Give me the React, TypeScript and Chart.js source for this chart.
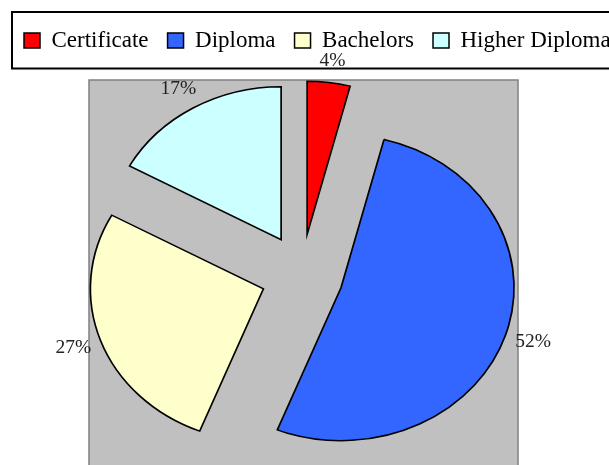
import React, { useEffect, useRef } from "react";
import { Chart, registerables } from "chart.js";

Chart.register(...registerables);

const CATEGORIES = ["Certificate", "Diploma", "Bachelors", "Higher Diploma"];
const VALUES = [4, 52, 27, 17];
const COLORS = ["#FF0000", "#3366FF", "#FFFFCC", "#CCFFFF"];

const RADIUS = 153;
const STRETCH_X = 1.131;
const EXPLODE = 41;
const SERIF = "'Liberation Serif', 'Times New Roman', serif";

const explodePlugin = {
  id: "explodeEllipse",
  beforeDatasetsDraw(chart: any) {
    const meta = chart.getDatasetMeta(0);
    meta.data.forEach((arc: any) => {
      if (arc.__wrapped) return;
      const orig = arc.draw.bind(arc);
      arc.draw = (ctx: CanvasRenderingContext2D) => {
        const mid = (arc.startAngle + arc.endAngle) / 2;
        ctx.save();
        ctx.translate(arc.x + Math.cos(mid) * EXPLODE, arc.y + Math.sin(mid) * EXPLODE);
        ctx.scale(STRETCH_X, 1);
        ctx.translate(-arc.x, -arc.y);
        orig(ctx);
        ctx.restore();
      };
      arc.__wrapped = true;
    });
  },
};

const plotBgPlugin = {
  id: "plotBg",
  beforeDatasetsDraw(chart: any) {
    const arc = chart.getDatasetMeta(0).data[0];
    if (!arc) return;
    const ctx = chart.ctx;
    const left = arc.x - 213;
    const top = arc.y - 195;
    const w = 429;
    const h = 400;
    ctx.save();
    ctx.fillStyle = "#C0C0C0";
    ctx.fillRect(left, top, w, h);
    ctx.strokeStyle = "#808080";
    ctx.lineWidth = 1.5;
    ctx.strokeRect(left, top, w, h);
    ctx.restore();
  },
};

const labelPlugin = {
  id: "pctLabels",
  afterDatasetsDraw(chart: any) {
    const ctx = chart.ctx;
    const meta = chart.getDatasetMeta(0);
    const data = chart.data.datasets[0].data as number[];
    const total = data.reduce((a, b) => a + b, 0);
    ctx.save();
    ctx.font = `19.5px ${SERIF}`;
    ctx.fillStyle = "#222222";
    ctx.textAlign = "center";
    ctx.textBaseline = "middle";
    meta.data.forEach((arc: any, i: number) => {
      const mid = (arc.startAngle + arc.endAngle) / 2;
      const x = arc.x + Math.cos(mid) * (EXPLODE + arc.outerRadius * STRETCH_X + 29);
      const y = arc.y + Math.sin(mid) * (EXPLODE + arc.outerRadius + 22);
      ctx.fillText(`${Math.round((data[i] / total) * 100)}%`, x, y);
    });
    ctx.restore();
  },
};

const legendFramePlugin = {
  id: "legendFrame",
  afterDraw(chart: any) {
    const ctx = chart.ctx;
    ctx.save();
    ctx.strokeStyle = "#000000";
    ctx.lineWidth = 2;
    ctx.beginPath();
    ctx.moveTo(chart.width + 5, 12);
    ctx.lineTo(12, 12);
    ctx.lineTo(12, 68.5);
    ctx.lineTo(chart.width + 5, 68.5);
    ctx.stroke();
    ctx.restore();
  },
};

export default function App() {
  const ref = useRef<HTMLCanvasElement | null>(null);

  useEffect(() => {
    const canvas = ref.current;
    if (!canvas) return;
    const chart = new Chart(canvas, {
      type: "pie",
      data: {
        labels: CATEGORIES,
        datasets: [
          {
            data: VALUES,
            backgroundColor: COLORS,
            borderColor: "#000000",
            borderWidth: 1.5,
            borderJoinStyle: "miter",
            radius: RADIUS,
          } as any,
        ],
      },
      options: {
        responsive: false,
        animation: false,
        events: [],
        layout: { padding: { left: 5, top: 10, right: 0, bottom: 2 } },
        scales: {
          spacer: {
            type: "linear",
            position: "right",
            display: true,
            grid: { display: false },
            border: { display: false },
            ticks: { display: false },
            afterFit: (s: any) => {
              s.width = 101;
            },
          },
        } as any,
        plugins: {
          legend: {
            display: true,
            position: "top",
            align: "start",
            labels: {
              boxWidth: 16,
              boxHeight: 15,
              padding: 19,
              color: "#000000",
              font: { family: SERIF, size: 23 },
            },
          },
          tooltip: { enabled: false },
        },
      },
      plugins: [explodePlugin, plotBgPlugin, labelPlugin, legendFramePlugin],
    });
    return () => chart.destroy();
  }, []);

  return (
    <div
      style={{
        position: "fixed",
        left: 0,
        top: 0,
        width: 609,
        height: 465,
        overflow: "hidden",
        background: "#ffffff",
      }}
    >
      <canvas ref={ref} width={700} height={490} style={{ display: "block" }} />
    </div>
  );
}
